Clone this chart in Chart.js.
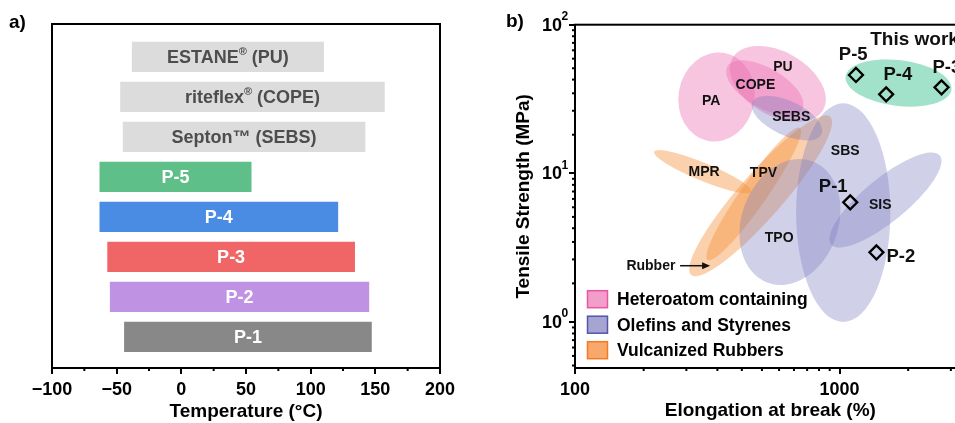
<!DOCTYPE html>
<html><head><meta charset="utf-8">
<script src="https://cdn.jsdelivr.net/npm/chart.js@4.4.0/dist/chart.umd.min.js"></script>
<style>
html,body{margin:0;padding:0;background:#fff;overflow:hidden;width:955px;height:423px;}
#wa{position:absolute;left:0;top:0;width:470px;height:423px;}
#wb{position:absolute;left:470px;top:0;width:505px;height:423px;}
</style></head><body>
<div id="wa"><canvas id="ca"></canvas></div>
<div id="wb"><canvas id="cb"></canvas></div>
<script>
const FONT = '"Liberation Sans", Arial, Helvetica, sans-serif';

// ---------- Panel a: service temperature windows ----------
const materials  = ['ESTANE® (PU)', 'riteflex® (COPE)', 'Septon™ (SEBS)', 'P-5', 'P-4', 'P-3', 'P-2', 'P-1'];
const tempLow    = [-38, -47, -45, -63, -63, -57, -55, -44];
const tempHigh   = [110, 157, 142, 54, 121, 134, 145, 147];
const barColors  = ['#dcdcdc', '#dcdcdc', '#dcdcdc', '#5fbf88', '#4a8be3', '#f06666', '#c092e3', '#888888'];
const textColors = ['#4d4d4d', '#4d4d4d', '#4d4d4d', '#ffffff', '#ffffff', '#ffffff', '#ffffff', '#ffffff'];
const tempTicks  = [-100, -50, 0, 50, 100, 150, 200];
const tempMinorTicks = [-75, -25, 25, 75, 125, 175];

// ---------- Panel b: Ashby-type plot ----------
const sampleNames = ['P-1', 'P-2', 'P-3', 'P-4', 'P-5'];
const elongation  = [1098, 1379, 2430, 1501, 1154];   // %
const strength    = [6.38, 2.94, 37.9, 34.0, 45.9];   // MPa
const sampleLabelX = [947, 1707, 2545, 1663, 1127];
const sampleLabelY = [8.13, 2.73, 51.1, 45.9, 62.5];

const groupNames   = ['Heteroatom containing', 'Olefins and Styrenes', 'Vulcanized Rubbers'];
// regions: two ends of the major axis (elongation %, MPa) and minor/major ratio
const regionNames = ['PA', 'PU', 'COPE', 'MPR', 'TPV', 'Rubber', 'SEBS', 'SBS', 'SIS', 'TPO', 'This work'];
const regionGroup = [0, 0, 0, 2, 2, 2, 1, 1, 1, 1, 3];
const regionX1    = [367.6, 394.3, 376.7, 199.2, 274.7, 316.8, 468.1, 1033, 929.8, 788.4, 1055];
const regionY1    = [64.5, 59.7, 52.3, 13.98, 2.07, 2.61, 30.2, 29.6, 3.32, 12.06, 44.8];
const regionX2    = [319.6, 866.9, 722.6, 464.4, 921.8, 708.9, 855.1, 1033, 2394, 535.3, 2650];
const regionY2    = [16.5, 26.7, 26.9, 7.52, 24.04, 20.17, 18.35, 1.0, 13.18, 1.833, 36.6];
const regionRatio = [0.85, 0.615, 0.465, 0.17, 0.21, 0.16, 0.45, 0.431, 0.31, 0.746, 0.43];
const regionLabelX = [327, 610.7, 481.1, 307.7, 515.8, 193.6, 656.7, 1051, 1426, 591.4, 1922];
const regionLabelY = [30.8, 52.2, 39.3, 10.2, 10.05, 2.39, 24.0, 14.2, 6.12, 3.69, 78.9];
const rubberArrowX = [249.6, 324.2];
const rubberArrowY = 2.39;

const elongTicks = [100, 1000];
const strengthTicks = [1, 10, 100];
const strengthExp = [0, 1, 2];

const groupFill   = ['rgba(235,110,175,0.40)', 'rgba(125,125,190,0.36)', 'rgba(245,145,60,0.42)', 'rgba(70,195,150,0.50)'];
const legendFill  = ['#f29ecb', '#a5a5d2', '#f9a86b'];
const legendEdge  = ['#e9559f', '#5555aa', '#f47a22'];

function f(size, w) { return (w || 'bold') + ' ' + size + 'px ' + FONT; }

// ---------- chart a ----------
const panelA = {
  id: 'panelA',
  afterDatasetsDraw(chart) {
    const ctx = chart.ctx;
    const meta = chart.getDatasetMeta(0);
    ctx.save();
    ctx.textBaseline = 'middle';
    meta.data.forEach((bar, i) => {
      const cx = (bar.x + bar.base) / 2, cy = bar.y + 1;
      const parts = materials[i].split('®');
      ctx.font = f(18);
      let w = 0;
      parts.forEach(p => { w += ctx.measureText(p).width; });
      ctx.font = f(11);
      const rw = ctx.measureText('®').width;
      w += rw * (parts.length - 1);
      let x = cx - w / 2;
      ctx.fillStyle = textColors[i];
      ctx.textAlign = 'left';
      parts.forEach((p, k) => {
        ctx.font = f(18);
        ctx.fillText(p, x, cy);
        x += ctx.measureText(p).width;
        if (k < parts.length - 1) {
          ctx.font = f(11);
          ctx.fillText('®', x, cy - 6);
          x += rw;
        }
      });
    });
    ctx.restore();
  },
  afterDraw(chart) {
    const ctx = chart.ctx, a = chart.chartArea, xs = chart.scales.x;
    ctx.save();
    ctx.strokeStyle = '#000';
    ctx.lineWidth = 2;
    ctx.strokeRect(a.left, a.top, a.right - a.left, a.bottom - a.top);
    tempMinorTicks.forEach(v => {
      const x = xs.getPixelForValue(v);
      ctx.beginPath(); ctx.moveTo(x, a.bottom); ctx.lineTo(x, a.bottom + 3); ctx.stroke();
    });
    ctx.fillStyle = '#000';
    ctx.font = f(19);
    ctx.textBaseline = 'middle';
    ctx.textAlign = 'left';
    ctx.fillText('a)', 9, 23);
    ctx.restore();
  }
};

new Chart(document.getElementById('ca'), {
  type: 'bar',
  data: {
    datasets: [{
      data: materials.map((m, i) => ({ x: [tempLow[i], tempHigh[i]], y: materials.length - i })),
      backgroundColor: barColors,
      borderWidth: 0,
      barThickness: 29.5
    }]
  },
  options: {
    indexAxis: 'y',
    responsive: true, maintainAspectRatio: false, animation: false,
    layout: { padding: { left: 52, right: 30, top: 24, bottom: 0 } },
    plugins: { legend: { display: false }, tooltip: { enabled: false } },
    scales: {
      x: {
        type: 'linear', min: -100, max: 200,
        afterBuildTicks: s => { s.ticks = tempTicks.map(v => ({ value: v })); },
        ticks: { callback: v => v < 0 ? '\u2212' + Math.abs(v) : String(v), font: { family: FONT, size: 18, weight: 'bold' }, color: '#000', padding: 5, maxRotation: 0, autoSkip: false },
        grid: { drawOnChartArea: false, tickLength: 6, color: '#000', lineWidth: 2 },
        border: { display: false },
        title: { display: true, text: 'Temperature (°C)', font: { family: FONT, size: 19, weight: 'bold' }, color: '#000', padding: { top: 0, bottom: 0 } },
        afterFit: s => { s.height = 55; }
      },
      y: { type: 'linear', min: 0.22, max: 8.82, offset: false, display: false }
    }
  },
  plugins: [panelA]
});

// ---------- chart b ----------
function linMinor(lo, hi) {
  const out = [];
  for (let k = 1; k <= 10; k++) out.push(lo + k * (hi - lo) / 11);
  return out;
}

const panelB = {
  id: 'panelB',
  beforeDatasetsDraw(chart) {
    const ctx = chart.ctx, a = chart.chartArea, xs = chart.scales.x, ys = chart.scales.y;
    ctx.save();
    ctx.beginPath(); ctx.rect(a.left, a.top, a.right - a.left, a.bottom - a.top); ctx.clip();
    regionNames.forEach((n, i) => {
      const x1 = xs.getPixelForValue(regionX1[i]), y1 = ys.getPixelForValue(regionY1[i]);
      const x2 = xs.getPixelForValue(regionX2[i]), y2 = ys.getPixelForValue(regionY2[i]);
      const cx = (x1 + x2) / 2, cy = (y1 + y2) / 2;
      const ra = Math.hypot(x2 - x1, y2 - y1) / 2;
      const ang = Math.atan2(y2 - y1, x2 - x1);
      ctx.beginPath();
      ctx.ellipse(cx, cy, ra, ra * regionRatio[i], ang, 0, Math.PI * 2);
      ctx.fillStyle = groupFill[regionGroup[i]];
      ctx.fill();
    });
    ctx.restore();
  },
  afterDatasetsDraw(chart) {
    const ctx = chart.ctx, xs = chart.scales.x, ys = chart.scales.y;
    ctx.save();
    ctx.fillStyle = '#111';
    ctx.textAlign = 'center';
    ctx.textBaseline = 'middle';
    regionNames.forEach((n, i) => {
      ctx.font = n === 'This work' ? f(19) : f(14);
      ctx.fillText(n, xs.getPixelForValue(regionLabelX[i]), ys.getPixelForValue(regionLabelY[i]));
    });
    ctx.font = f(18.5);
    sampleNames.forEach((n, i) => {
      ctx.fillText(n, xs.getPixelForValue(sampleLabelX[i]), ys.getPixelForValue(sampleLabelY[i]));
    });
    const ax1 = xs.getPixelForValue(rubberArrowX[0]), ax2 = xs.getPixelForValue(rubberArrowX[1]);
    const ay = ys.getPixelForValue(rubberArrowY);
    ctx.strokeStyle = '#111'; ctx.lineWidth = 1.5;
    ctx.beginPath(); ctx.moveTo(ax1, ay); ctx.lineTo(ax2 - 6, ay); ctx.stroke();
    ctx.beginPath(); ctx.moveTo(ax2, ay); ctx.lineTo(ax2 - 8, ay - 3.5); ctx.lineTo(ax2 - 8, ay + 3.5); ctx.closePath(); ctx.fill();
    ctx.restore();
  },
  afterDraw(chart) {
    const ctx = chart.ctx, a = chart.chartArea, xs = chart.scales.x, ys = chart.scales.y;
    ctx.save();
    ctx.strokeStyle = '#000';
    ctx.lineWidth = 2;
    ctx.strokeRect(a.left, a.top, a.right - a.left, a.bottom - a.top);
    const xm = linMinor(100, 1000).concat(linMinor(1000, 10000)).filter(v => v > xs.min && v < xs.max);
    xm.forEach(v => { const x = xs.getPixelForValue(v); ctx.beginPath(); ctx.moveTo(x, a.bottom); ctx.lineTo(x, a.bottom + 3); ctx.stroke(); });
    const ym = linMinor(0.1, 1).concat(linMinor(1, 10), linMinor(10, 100)).filter(v => v > ys.min && v < ys.max);
    ym.forEach(v => { const y = ys.getPixelForValue(v); ctx.beginPath(); ctx.moveTo(a.left, y); ctx.lineTo(a.left - 3, y); ctx.stroke(); });
    ctx.fillStyle = '#000';
    ctx.textBaseline = 'middle';
    strengthTicks.forEach((v, i) => {
      const y = ys.getPixelForValue(v);
      ctx.font = f(18); ctx.textAlign = 'right';
      ctx.fillText('10', a.left - 13, y + 1);
      ctx.font = f(12); ctx.textAlign = 'left';
      ctx.fillText(String(strengthExp[i]), a.left - 13.5, y - 8);
    });
    groupNames.forEach((g, i) => {
      const cy = a.bottom - 68.8 + i * 25.5;
      const bx = a.left + 12.5;
      ctx.fillStyle = legendFill[i];
      ctx.fillRect(bx, cy - 8.5, 20, 17);
      ctx.strokeStyle = legendEdge[i]; ctx.lineWidth = 1.5;
      ctx.strokeRect(bx, cy - 8.5, 20, 17);
      ctx.fillStyle = '#000';
      ctx.font = f(17.5); ctx.textAlign = 'left';
      ctx.fillText(g, a.left + 42, cy + 1);
    });
    ctx.font = f(19); ctx.textAlign = 'left';
    ctx.fillText('b)', 36, 22);
    ctx.restore();
  }
};

new Chart(document.getElementById('cb'), {
  type: 'scatter',
  data: {
    datasets: [{
      data: sampleNames.map((n, i) => ({ x: elongation[i], y: strength[i] })),
      pointStyle: 'rectRot', pointRadius: 7, borderWidth: 2.3,
      borderColor: '#000', backgroundColor: 'rgba(0,0,0,0)'
    }]
  },
  options: {
    responsive: true, maintainAspectRatio: false, animation: false,
    layout: { padding: { left: 0, right: 5, top: 24.7, bottom: 0 } },
    plugins: { legend: { display: false }, tooltip: { enabled: false } },
    scales: {
      x: {
        type: 'logarithmic', min: 100, max: 3000,
        afterBuildTicks: s => { s.ticks = elongTicks.map(v => ({ value: v })); },
        ticks: { callback: v => String(v), font: { family: FONT, size: 18, weight: 'bold' }, color: '#000', padding: 5, maxRotation: 0, autoSkip: false },
        grid: { drawOnChartArea: false, tickLength: 6, color: '#000', lineWidth: 2 },
        border: { display: false },
        title: { display: true, text: 'Elongation at break (%)', font: { family: FONT, size: 19, weight: 'bold' }, color: '#000', padding: { top: 0, bottom: 0.5 } },
        afterFit: s => { s.height = 55; }
      },
      y: {
        type: 'logarithmic', min: 0.49, max: 100,
        afterBuildTicks: s => { s.ticks = strengthTicks.map(v => ({ value: v })); },
        ticks: { display: false },
        grid: { drawOnChartArea: false, tickLength: 6, color: '#000', lineWidth: 2 },
        border: { display: false },
        title: { display: true, text: 'Tensile Strength (MPa)', font: { family: FONT, size: 19, weight: 'bold' }, color: '#000', padding: { top: 42, bottom: 0 } },
        afterFit: s => { s.width = 105; }
      }
    }
  },
  plugins: [panelB]
});
</script>
</body></html>
